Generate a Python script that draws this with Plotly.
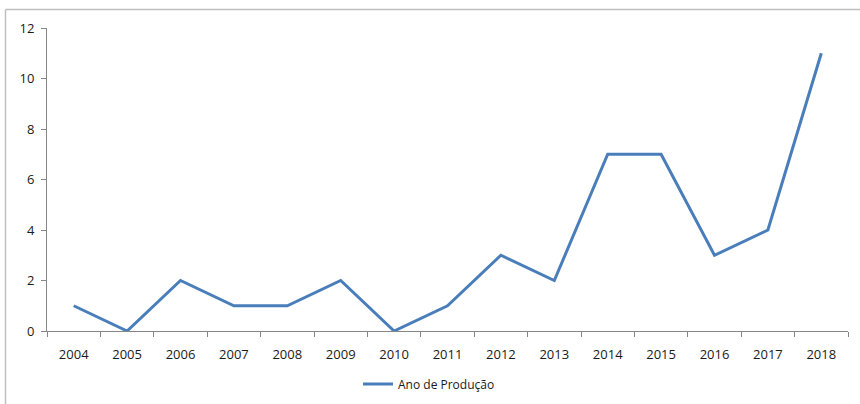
import plotly.graph_objects as go

years = ["2004", "2005", "2006", "2007", "2008", "2009", "2010", "2011",
         "2012", "2013", "2014", "2015", "2016", "2017", "2018"]
values = [1, 0, 2, 1, 1, 2, 0, 1, 3, 2, 7, 7, 3, 4, 11]
series_name = "Ano de Produção"

W, H = 860, 404
L, R, T, B = 47, 12, 28, 73
pw, ph = W - L - R, H - T - B

fig = go.Figure()
fig.add_trace(go.Scatter(
    x=years, y=values, mode="lines", name=series_name,
    line=dict(color="#4A7EBB", width=3), cliponaxis=False,
))

def px_x(x):
    return (x - L) / pw

def px_y(y):
    return (H - B - y) / ph

border = "#BFBFBF"
fig.update_layout(
    width=W, height=H,
    margin=dict(l=L, r=R, t=T, b=B, pad=0, autoexpand=False),
    paper_bgcolor="white", plot_bgcolor="white",
    font=dict(family="Open Sans, Liberation Sans, sans-serif", size=12, color="#1a1a1a"),
    showlegend=True,
    legend=dict(orientation="h", xref="container", yref="container",
                x=429 / W, xanchor="center", y=1 - 384 / H, yanchor="middle",
                font=dict(size=12), itemwidth=30),
    xaxis=dict(type="category", showgrid=False, showline=True, linecolor="#868686", linewidth=1,
               ticks="outside", tickson="boundaries", ticklen=5, tickcolor="#868686",
               tickfont=dict(size=13), range=[-0.5, 14.5], zeroline=False,
               ticklabelstandoff=11),
    yaxis=dict(range=[0, 12], dtick=2, showgrid=False, showline=True, linecolor="#868686",
               linewidth=1, ticks="outside", ticklen=5, tickcolor="#868686",
               tickfont=dict(size=13), zeroline=False, ticklabelstandoff=4),
    shapes=[
        dict(type="line", xref="paper", yref="paper", x0=px_x(5.5), x1=px_x(5.5),
             y0=px_y(9.5), y1=px_y(410), line=dict(color=border, width=1.5)),
        dict(type="line", xref="paper", yref="paper", x0=px_x(5.5), x1=px_x(870),
             y0=px_y(9.5), y1=px_y(9.5), line=dict(color=border, width=1.5)),
    ],
)

fig.write_html("out.html", config={"displayModeBar": False},
               post_script="document.body.style.margin='0';document.body.style.overflow='hidden';")
